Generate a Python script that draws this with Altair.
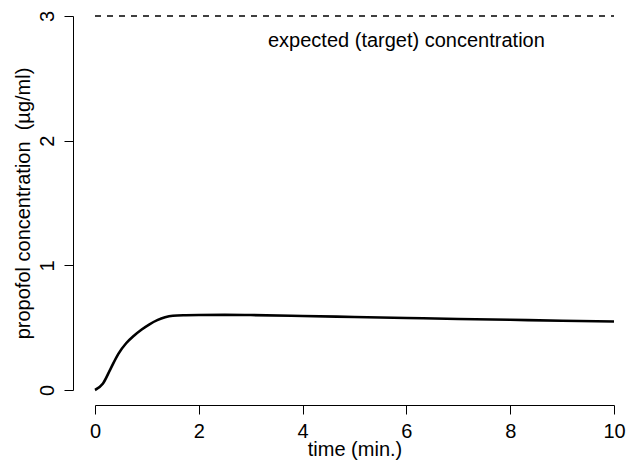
import altair as alt
import pandas as pd

# data
time_min = [0, 0.15, 0.3, 0.45, 0.6, 0.75, 0.9, 1.05, 1.2, 1.35, 1.5, 1.75, 2, 2.5, 3, 4, 5, 6, 7, 8, 9, 10]
conc = [0, 0.05, 0.17, 0.29, 0.375, 0.435, 0.485, 0.527, 0.56, 0.583, 0.595, 0.60, 0.602, 0.603, 0.601, 0.594, 0.586, 0.578, 0.570, 0.563, 0.556, 0.550]

target_value = [3]
target_span = [0, 10]
label_text = ["expected (target) concentration"]
label_pos = [6, 2.75]

x_ticks = [0, 2, 4, 6, 8, 10]
y_ticks = [0, 1, 2, 3]

FONT = "Liberation Sans"

curve_df = pd.DataFrame({"t": time_min, "c": conc})
target_df = pd.DataFrame({"c": target_value, "t0": [target_span[0]], "t1": [target_span[1]]})
label_df = pd.DataFrame({"t": [label_pos[0]], "c": [label_pos[1]], "txt": label_text})

x_scale = alt.Scale(domain=[0, 10], range=[22, 541], nice=False, zero=False)
y_scale = alt.Scale(domain=[0, 3], range=[382, 8], nice=False, zero=False)

x_axis = alt.Axis(
    values=x_ticks, title="time (min.)", grid=False, format="d", labelFlush=False,
    tickSize=9, labelPadding=7, labelFontSize=20, labelFont=FONT,
    titleFontSize=20, titleFont=FONT, titleFontWeight="normal",
    titleY=50, titleBaseline="alphabetic",
    domainColor="black", tickColor="black", labelColor="black", titleColor="black",
)
y_axis = alt.Axis(
    values=y_ticks, title="propofol concentration\u00a0 (µg/ml)", grid=False, format="d", labelFlush=False,
    tickSize=9, labelPadding=11, labelFontSize=20, labelFont=FONT,
    labelAngle=270, labelAlign="center", labelBaseline="alphabetic",
    titleFontSize=20, titleFont=FONT, titleFontWeight="normal",
    titleX=-44, titleAngle=270, titleBaseline="alphabetic",
    domainColor="black", tickColor="black", labelColor="black", titleColor="black",
)

curve = alt.Chart(curve_df).mark_line(color="black", strokeWidth=2.6, interpolate="monotone").encode(
    x=alt.X("t:Q", scale=x_scale, axis=x_axis),
    y=alt.Y("c:Q", scale=y_scale, axis=y_axis),
)

target = alt.Chart(target_df).mark_rule(color="black", strokeWidth=1.3, strokeDash=[6, 6]).encode(
    x=alt.X("t0:Q", scale=x_scale),
    x2="t1:Q",
    y=alt.Y("c:Q", scale=y_scale),
)

label = alt.Chart(label_df).mark_text(
    fontSize=20, font=FONT, align="center", baseline="alphabetic", color="black"
).encode(
    x=alt.X("t:Q", scale=x_scale),
    y=alt.Y("c:Q", scale=y_scale),
    text="txt:N",
)

chart = alt.layer(target, label, curve).properties(
    width=553, height=397,
    autosize=alt.AutoSizeParams(type="none"),
    padding={"left": 65, "top": 0, "right": 0, "bottom": 58},
).configure_view(stroke=None)

chart.save("out.html", embed_options={"renderer": "svg", "actions": False})
